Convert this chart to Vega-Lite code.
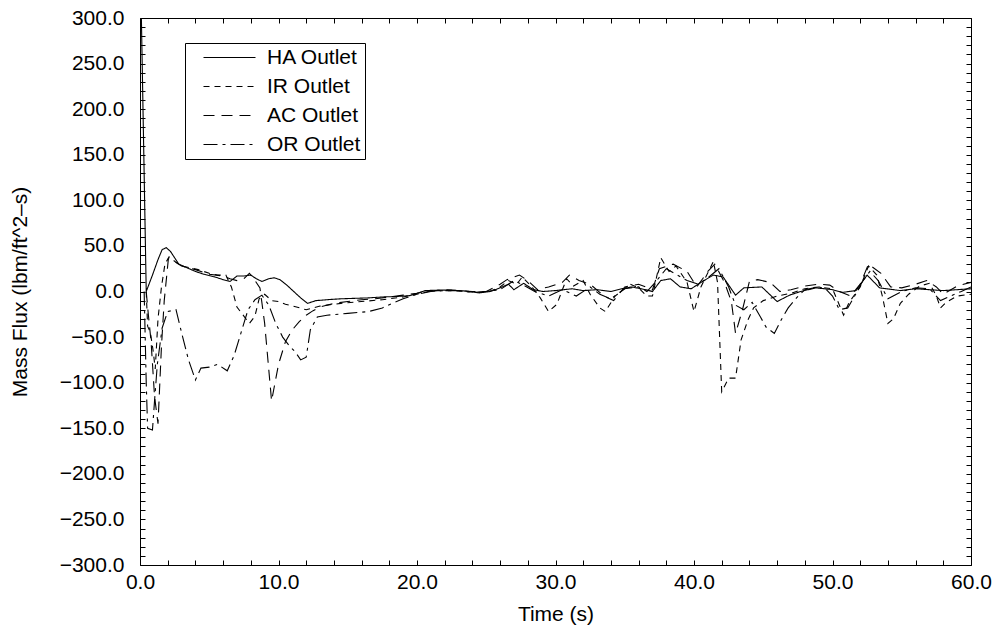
{
  "$schema": "https://vega.github.io/schema/vega-lite/v6.json",
  "width": 831,
  "height": 547,
  "autosize": {"type": "none"},
  "padding": {"left": 140, "top": 18, "right": 28, "bottom": 65},
  "background": "white",
  "config": {
    "view": {"stroke": "black", "strokeWidth": 1},
    "font": "Liberation Sans",
    "axis": {
      "domain": false,
      "tickColor": "black",
      "tickWidth": 1,
      "labelColor": "black",
      "titleColor": "black",
      "labelFont": "Liberation Sans",
      "titleFont": "Liberation Sans",
      "labelFontSize": 21,
      "titleFontSize": 21,
      "titleFontWeight": "normal",
      "grid": false,
      "labelFlush": false,
      "labelOverlap": false
    },
    "legend": {
      "labelFont": "Liberation Sans",
      "labelFontSize": 21,
      "labelColor": "black"
    }
  },
  "data": {
    "values": [
      {"s":"HA Outlet","t":0.1,"v":300},{"s":"HA Outlet","t":0.45,"v":0},{"s":"HA Outlet","t":0.9,"v":18},{"s":"HA Outlet","t":1.3,"v":35},{"s":"HA Outlet","t":1.6,"v":46},{"s":"HA Outlet","t":1.9,"v":48},{"s":"HA Outlet","t":2.2,"v":44},{"s":"HA Outlet","t":2.8,"v":30},{"s":"HA Outlet","t":3.4,"v":26},{"s":"HA Outlet","t":4.0,"v":22},{"s":"HA Outlet","t":4.6,"v":19},{"s":"HA Outlet","t":5.4,"v":16},{"s":"HA Outlet","t":6.0,"v":13},{"s":"HA Outlet","t":6.5,"v":11},{"s":"HA Outlet","t":7.0,"v":17},{"s":"HA Outlet","t":7.5,"v":17},{"s":"HA Outlet","t":8.0,"v":18},{"s":"HA Outlet","t":8.4,"v":14},{"s":"HA Outlet","t":8.8,"v":11},{"s":"HA Outlet","t":9.3,"v":14},{"s":"HA Outlet","t":9.7,"v":15},{"s":"HA Outlet","t":10.1,"v":13},{"s":"HA Outlet","t":10.6,"v":7},{"s":"HA Outlet","t":11.1,"v":0},{"s":"HA Outlet","t":11.6,"v":-7},{"s":"HA Outlet","t":12.1,"v":-13},{"s":"HA Outlet","t":12.7,"v":-10},{"s":"HA Outlet","t":13.5,"v":-9},{"s":"HA Outlet","t":14.5,"v":-8},{"s":"HA Outlet","t":15.5,"v":-7.5},{"s":"HA Outlet","t":16.5,"v":-7},{"s":"HA Outlet","t":17.5,"v":-6},{"s":"HA Outlet","t":18.5,"v":-5.5},{"s":"HA Outlet","t":19.5,"v":-4.5},{"s":"HA Outlet","t":20.0,"v":-2},{"s":"HA Outlet","t":20.6,"v":1},{"s":"HA Outlet","t":21.5,"v":1.5},{"s":"HA Outlet","t":22.5,"v":1.5},{"s":"HA Outlet","t":23.5,"v":0.5},{"s":"HA Outlet","t":24.5,"v":-1.5},{"s":"HA Outlet","t":25.3,"v":0},{"s":"HA Outlet","t":26.0,"v":4},{"s":"HA Outlet","t":26.6,"v":8},{"s":"HA Outlet","t":27.0,"v":2},{"s":"HA Outlet","t":27.7,"v":9},{"s":"HA Outlet","t":28.4,"v":2},{"s":"HA Outlet","t":29.1,"v":0},{"s":"HA Outlet","t":30.0,"v":1},{"s":"HA Outlet","t":30.6,"v":2},{"s":"HA Outlet","t":31.2,"v":3},{"s":"HA Outlet","t":32.0,"v":1},{"s":"HA Outlet","t":33.0,"v":2},{"s":"HA Outlet","t":34.0,"v":0},{"s":"HA Outlet","t":34.8,"v":3},{"s":"HA Outlet","t":35.5,"v":5},{"s":"HA Outlet","t":36.5,"v":2},{"s":"HA Outlet","t":37.0,"v":0},{"s":"HA Outlet","t":37.6,"v":12},{"s":"HA Outlet","t":38.3,"v":14},{"s":"HA Outlet","t":39.0,"v":5},{"s":"HA Outlet","t":39.8,"v":3},{"s":"HA Outlet","t":40.5,"v":10},{"s":"HA Outlet","t":41.4,"v":18},{"s":"HA Outlet","t":42.1,"v":16},{"s":"HA Outlet","t":43.0,"v":-4},{"s":"HA Outlet","t":43.6,"v":4},{"s":"HA Outlet","t":44.9,"v":5},{"s":"HA Outlet","t":46.0,"v":-11},{"s":"HA Outlet","t":46.9,"v":-4},{"s":"HA Outlet","t":47.7,"v":0},{"s":"HA Outlet","t":48.8,"v":4},{"s":"HA Outlet","t":50.0,"v":2},{"s":"HA Outlet","t":50.7,"v":-1},{"s":"HA Outlet","t":51.7,"v":1},{"s":"HA Outlet","t":52.5,"v":18},{"s":"HA Outlet","t":53.4,"v":4},{"s":"HA Outlet","t":54.9,"v":1},{"s":"HA Outlet","t":56.0,"v":3},{"s":"HA Outlet","t":57.0,"v":2},{"s":"HA Outlet","t":58.0,"v":1},{"s":"HA Outlet","t":59.0,"v":2},{"s":"HA Outlet","t":60.0,"v":3},

      {"s":"IR Outlet","t":0.45,"v":0},{"s":"IR Outlet","t":0.55,"v":-38},{"s":"IR Outlet","t":0.75,"v":-45},{"s":"IR Outlet","t":0.95,"v":-65},{"s":"IR Outlet","t":1.1,"v":-85},{"s":"IR Outlet","t":1.3,"v":-30},{"s":"IR Outlet","t":1.55,"v":5},{"s":"IR Outlet","t":1.8,"v":30},{"s":"IR Outlet","t":2.1,"v":38},{"s":"IR Outlet","t":2.6,"v":32},{"s":"IR Outlet","t":3.0,"v":28},{"s":"IR Outlet","t":3.6,"v":26},{"s":"IR Outlet","t":4.2,"v":24},{"s":"IR Outlet","t":5.0,"v":20},{"s":"IR Outlet","t":5.6,"v":18},{"s":"IR Outlet","t":6.2,"v":18},{"s":"IR Outlet","t":6.6,"v":5},{"s":"IR Outlet","t":7.0,"v":-17},{"s":"IR Outlet","t":7.5,"v":-27},{"s":"IR Outlet","t":7.9,"v":-35},{"s":"IR Outlet","t":8.3,"v":-27},{"s":"IR Outlet","t":8.6,"v":-8},{"s":"IR Outlet","t":9.0,"v":-3},{"s":"IR Outlet","t":9.5,"v":-10},{"s":"IR Outlet","t":10.0,"v":-11},{"s":"IR Outlet","t":10.5,"v":-14},{"s":"IR Outlet","t":11.3,"v":-17},{"s":"IR Outlet","t":12.0,"v":-20},{"s":"IR Outlet","t":13.0,"v":-16},{"s":"IR Outlet","t":14.5,"v":-13},{"s":"IR Outlet","t":16.0,"v":-11},{"s":"IR Outlet","t":17.5,"v":-9},{"s":"IR Outlet","t":19.0,"v":-6},{"s":"IR Outlet","t":20.0,"v":-3},{"s":"IR Outlet","t":20.8,"v":0},{"s":"IR Outlet","t":21.5,"v":1},{"s":"IR Outlet","t":22.5,"v":1},{"s":"IR Outlet","t":23.5,"v":0},{"s":"IR Outlet","t":24.5,"v":-1},{"s":"IR Outlet","t":25.4,"v":1},{"s":"IR Outlet","t":26.0,"v":5},{"s":"IR Outlet","t":26.6,"v":12},{"s":"IR Outlet","t":27.2,"v":8},{"s":"IR Outlet","t":27.6,"v":16},{"s":"IR Outlet","t":28.3,"v":5},{"s":"IR Outlet","t":28.9,"v":-7},{"s":"IR Outlet","t":29.5,"v":-22},{"s":"IR Outlet","t":30.1,"v":-14},{"s":"IR Outlet","t":30.8,"v":14},{"s":"IR Outlet","t":31.3,"v":6},{"s":"IR Outlet","t":32.0,"v":12},{"s":"IR Outlet","t":32.5,"v":-3},{"s":"IR Outlet","t":33.2,"v":-18},{"s":"IR Outlet","t":33.6,"v":-22},{"s":"IR Outlet","t":34.3,"v":-5},{"s":"IR Outlet","t":35.4,"v":8},{"s":"IR Outlet","t":36.0,"v":4},{"s":"IR Outlet","t":36.6,"v":-5},{"s":"IR Outlet","t":37.0,"v":-5},{"s":"IR Outlet","t":37.6,"v":37},{"s":"IR Outlet","t":38.2,"v":22},{"s":"IR Outlet","t":38.7,"v":28},{"s":"IR Outlet","t":39.5,"v":10},{"s":"IR Outlet","t":40.0,"v":-22},{"s":"IR Outlet","t":40.5,"v":5},{"s":"IR Outlet","t":41.4,"v":33},{"s":"IR Outlet","t":41.7,"v":10},{"s":"IR Outlet","t":42.0,"v":-110},{"s":"IR Outlet","t":42.5,"v":-95},{"s":"IR Outlet","t":43.0,"v":-95},{"s":"IR Outlet","t":43.4,"v":-53},{"s":"IR Outlet","t":43.9,"v":-31},{"s":"IR Outlet","t":44.3,"v":-18},{"s":"IR Outlet","t":45.0,"v":-10},{"s":"IR Outlet","t":46.0,"v":-5},{"s":"IR Outlet","t":47.0,"v":-2},{"s":"IR Outlet","t":48.0,"v":3},{"s":"IR Outlet","t":49.0,"v":5},{"s":"IR Outlet","t":50.0,"v":3},{"s":"IR Outlet","t":50.5,"v":-15},{"s":"IR Outlet","t":50.8,"v":-26},{"s":"IR Outlet","t":51.2,"v":-12},{"s":"IR Outlet","t":52.0,"v":5},{"s":"IR Outlet","t":52.6,"v":28},{"s":"IR Outlet","t":53.2,"v":18},{"s":"IR Outlet","t":53.6,"v":-5},{"s":"IR Outlet","t":54.0,"v":-35},{"s":"IR Outlet","t":54.4,"v":-30},{"s":"IR Outlet","t":54.9,"v":-13},{"s":"IR Outlet","t":55.5,"v":-3},{"s":"IR Outlet","t":56.3,"v":6},{"s":"IR Outlet","t":57.0,"v":9},{"s":"IR Outlet","t":57.5,"v":-5},{"s":"IR Outlet","t":57.8,"v":-18},{"s":"IR Outlet","t":58.2,"v":-12},{"s":"IR Outlet","t":59.0,"v":-5},{"s":"IR Outlet","t":60.0,"v":-3},

      {"s":"AC Outlet","t":0.45,"v":0},{"s":"AC Outlet","t":0.6,"v":-25},{"s":"AC Outlet","t":0.8,"v":-55},{"s":"AC Outlet","t":1.05,"v":-115},{"s":"AC Outlet","t":1.3,"v":-145},{"s":"AC Outlet","t":1.55,"v":-60},{"s":"AC Outlet","t":1.75,"v":-10},{"s":"AC Outlet","t":2.05,"v":36},{"s":"AC Outlet","t":2.5,"v":33},{"s":"AC Outlet","t":3.0,"v":28},{"s":"AC Outlet","t":4.0,"v":24},{"s":"AC Outlet","t":5.0,"v":19},{"s":"AC Outlet","t":6.0,"v":17},{"s":"AC Outlet","t":6.5,"v":14},{"s":"AC Outlet","t":7.0,"v":12},{"s":"AC Outlet","t":7.5,"v":14},{"s":"AC Outlet","t":7.9,"v":20},{"s":"AC Outlet","t":8.3,"v":12},{"s":"AC Outlet","t":8.66,"v":4},{"s":"AC Outlet","t":9.0,"v":-35},{"s":"AC Outlet","t":9.5,"v":-120},{"s":"AC Outlet","t":10.0,"v":-80},{"s":"AC Outlet","t":10.5,"v":-55},{"s":"AC Outlet","t":11.0,"v":-42},{"s":"AC Outlet","t":11.5,"v":-33},{"s":"AC Outlet","t":12.0,"v":-26},{"s":"AC Outlet","t":12.5,"v":-21},{"s":"AC Outlet","t":13.0,"v":-17},{"s":"AC Outlet","t":14.0,"v":-13},{"s":"AC Outlet","t":15.0,"v":-11},{"s":"AC Outlet","t":16.0,"v":-9},{"s":"AC Outlet","t":17.0,"v":-8},{"s":"AC Outlet","t":18.0,"v":-6},{"s":"AC Outlet","t":19.0,"v":-4},{"s":"AC Outlet","t":20.0,"v":-2},{"s":"AC Outlet","t":21.0,"v":0.5},{"s":"AC Outlet","t":22.0,"v":2},{"s":"AC Outlet","t":23.0,"v":1},{"s":"AC Outlet","t":24.0,"v":0},{"s":"AC Outlet","t":25.0,"v":0},{"s":"AC Outlet","t":26.0,"v":8},{"s":"AC Outlet","t":26.5,"v":13},{"s":"AC Outlet","t":27.4,"v":18},{"s":"AC Outlet","t":28.0,"v":12},{"s":"AC Outlet","t":28.7,"v":2},{"s":"AC Outlet","t":29.5,"v":5},{"s":"AC Outlet","t":30.5,"v":10},{"s":"AC Outlet","t":31.0,"v":18},{"s":"AC Outlet","t":31.7,"v":12},{"s":"AC Outlet","t":32.5,"v":8},{"s":"AC Outlet","t":33.5,"v":-5},{"s":"AC Outlet","t":34.2,"v":-10},{"s":"AC Outlet","t":35.0,"v":5},{"s":"AC Outlet","t":36.0,"v":8},{"s":"AC Outlet","t":37.0,"v":2},{"s":"AC Outlet","t":37.5,"v":25},{"s":"AC Outlet","t":38.5,"v":30},{"s":"AC Outlet","t":39.5,"v":22},{"s":"AC Outlet","t":40.2,"v":5},{"s":"AC Outlet","t":41.0,"v":22},{"s":"AC Outlet","t":41.5,"v":30},{"s":"AC Outlet","t":42.2,"v":10},{"s":"AC Outlet","t":42.7,"v":-11},{"s":"AC Outlet","t":43.0,"v":-46},{"s":"AC Outlet","t":43.5,"v":-20},{"s":"AC Outlet","t":44.0,"v":11},{"s":"AC Outlet","t":44.6,"v":13},{"s":"AC Outlet","t":45.5,"v":10},{"s":"AC Outlet","t":46.2,"v":0},{"s":"AC Outlet","t":47.0,"v":2},{"s":"AC Outlet","t":48.0,"v":6},{"s":"AC Outlet","t":49.0,"v":8},{"s":"AC Outlet","t":49.8,"v":7},{"s":"AC Outlet","t":50.5,"v":0},{"s":"AC Outlet","t":51.3,"v":-5},{"s":"AC Outlet","t":52.0,"v":8},{"s":"AC Outlet","t":52.6,"v":30},{"s":"AC Outlet","t":53.5,"v":20},{"s":"AC Outlet","t":54.2,"v":5},{"s":"AC Outlet","t":55.0,"v":4},{"s":"AC Outlet","t":56.0,"v":8},{"s":"AC Outlet","t":56.8,"v":12},{"s":"AC Outlet","t":57.5,"v":5},{"s":"AC Outlet","t":58.0,"v":-3},{"s":"AC Outlet","t":59.0,"v":6},{"s":"AC Outlet","t":60.0,"v":10},

      {"s":"OR Outlet","t":0.3,"v":0},{"s":"OR Outlet","t":0.45,"v":-100},{"s":"OR Outlet","t":0.55,"v":-150},{"s":"OR Outlet","t":0.9,"v":-152},{"s":"OR Outlet","t":1.05,"v":-120},{"s":"OR Outlet","t":1.25,"v":-80},{"s":"OR Outlet","t":1.6,"v":-40},{"s":"OR Outlet","t":2.0,"v":-22},{"s":"OR Outlet","t":2.6,"v":-20},{"s":"OR Outlet","t":3.0,"v":-45},{"s":"OR Outlet","t":3.5,"v":-75},{"s":"OR Outlet","t":4.0,"v":-97},{"s":"OR Outlet","t":4.4,"v":-84},{"s":"OR Outlet","t":5.0,"v":-83},{"s":"OR Outlet","t":5.6,"v":-80},{"s":"OR Outlet","t":6.3,"v":-87},{"s":"OR Outlet","t":6.8,"v":-70},{"s":"OR Outlet","t":7.4,"v":-40},{"s":"OR Outlet","t":7.8,"v":-20},{"s":"OR Outlet","t":8.3,"v":-9},{"s":"OR Outlet","t":8.8,"v":-4},{"s":"OR Outlet","t":9.3,"v":-15},{"s":"OR Outlet","t":9.8,"v":-35},{"s":"OR Outlet","t":10.3,"v":-50},{"s":"OR Outlet","t":10.8,"v":-60},{"s":"OR Outlet","t":11.2,"v":-66},{"s":"OR Outlet","t":11.6,"v":-75},{"s":"OR Outlet","t":12.0,"v":-72},{"s":"OR Outlet","t":12.3,"v":-42},{"s":"OR Outlet","t":12.8,"v":-28},{"s":"OR Outlet","t":13.5,"v":-26},{"s":"OR Outlet","t":15.0,"v":-24},{"s":"OR Outlet","t":16.5,"v":-22},{"s":"OR Outlet","t":17.5,"v":-18},{"s":"OR Outlet","t":18.2,"v":-13},{"s":"OR Outlet","t":19.0,"v":-8},{"s":"OR Outlet","t":20.0,"v":-3},{"s":"OR Outlet","t":21.0,"v":0},{"s":"OR Outlet","t":22.0,"v":1},{"s":"OR Outlet","t":23.0,"v":1},{"s":"OR Outlet","t":24.0,"v":-1},{"s":"OR Outlet","t":25.0,"v":0},{"s":"OR Outlet","t":26.0,"v":2},{"s":"OR Outlet","t":27.0,"v":12},{"s":"OR Outlet","t":27.8,"v":6},{"s":"OR Outlet","t":28.5,"v":0},{"s":"OR Outlet","t":29.5,"v":-5},{"s":"OR Outlet","t":30.5,"v":2},{"s":"OR Outlet","t":31.5,"v":-5},{"s":"OR Outlet","t":32.5,"v":5},{"s":"OR Outlet","t":33.2,"v":-3},{"s":"OR Outlet","t":34.0,"v":-8},{"s":"OR Outlet","t":35.0,"v":3},{"s":"OR Outlet","t":36.0,"v":5},{"s":"OR Outlet","t":36.6,"v":0},{"s":"OR Outlet","t":37.2,"v":10},{"s":"OR Outlet","t":38.0,"v":25},{"s":"OR Outlet","t":38.8,"v":18},{"s":"OR Outlet","t":39.5,"v":12},{"s":"OR Outlet","t":40.3,"v":8},{"s":"OR Outlet","t":41.0,"v":15},{"s":"OR Outlet","t":41.8,"v":25},{"s":"OR Outlet","t":42.5,"v":5},{"s":"OR Outlet","t":43.0,"v":-15},{"s":"OR Outlet","t":43.6,"v":-20},{"s":"OR Outlet","t":44.2,"v":-12},{"s":"OR Outlet","t":44.8,"v":-28},{"s":"OR Outlet","t":45.2,"v":-39},{"s":"OR Outlet","t":45.8,"v":-46},{"s":"OR Outlet","t":46.3,"v":-31},{"s":"OR Outlet","t":46.8,"v":-18},{"s":"OR Outlet","t":47.4,"v":-7},{"s":"OR Outlet","t":48.0,"v":2},{"s":"OR Outlet","t":49.0,"v":5},{"s":"OR Outlet","t":49.5,"v":3},{"s":"OR Outlet","t":50.0,"v":-5},{"s":"OR Outlet","t":50.5,"v":-20},{"s":"OR Outlet","t":51.1,"v":-18},{"s":"OR Outlet","t":51.6,"v":-5},{"s":"OR Outlet","t":52.2,"v":12},{"s":"OR Outlet","t":52.7,"v":22},{"s":"OR Outlet","t":53.3,"v":12},{"s":"OR Outlet","t":54.0,"v":-8},{"s":"OR Outlet","t":55.0,"v":0},{"s":"OR Outlet","t":56.0,"v":4},{"s":"OR Outlet","t":57.0,"v":3},{"s":"OR Outlet","t":57.8,"v":-10},{"s":"OR Outlet","t":58.5,"v":-5},{"s":"OR Outlet","t":59.3,"v":0},{"s":"OR Outlet","t":60.0,"v":5}
    ]
  },
  "layer": [
    {
      "mark": {"type": "line", "color": "black", "strokeWidth": 1.1, "clip": true},
      "encoding": {
        "x": {
          "field": "t", "type": "quantitative",
          "scale": {"domain": [0, 60], "nice": false, "zero": false},
          "axis": {
            "orient": "bottom",
            "values": [0,10,20,30,40,50,60],
            "format": ".1f",
            "ticks": false,
            "labelPadding": 6,
            "title": "Time (s)",
            "titlePadding": 11
          }
        },
        "y": {
          "field": "v", "type": "quantitative",
          "scale": {"domain": [-300, 300], "nice": false, "zero": false},
          "axis": {
            "orient": "left",
            "values": [-300,-250,-200,-150,-100,-50,0,50,100,150,200,250,300],
            "format": ".1f",
            "ticks": false,
            "labelPadding": 16,
            "title": "Mass Flux (lbm/ft^2–s)",
            "titlePadding": 29
          }
        },
        "strokeDash": {
          "field": "s", "type": "nominal",
          "scale": {
            "domain": ["HA Outlet", "IR Outlet", "AC Outlet", "OR Outlet"],
            "range": [[1, 0], [6, 5], [11, 7], [14, 5, 3, 5]]
          },
          "legend": {
            "title": null,
            "orient": "none",
            "legendX": 45,
            "legendY": 25,
            "padding": 4,
            "strokeColor": "black",
            "symbolType": "M-5.2,0H5.2",
            "symbolSize": 100,
            "symbolOffset": 30,
            "symbolStrokeColor": "black",
            "symbolStrokeWidth": 1.1,
            "labelOffset": 27,
            "rowPadding": 7
          }
        }
      }
    },
    {
      "mark": {"type": "point", "opacity": 0},
      "encoding": {
        "x": {
          "field": "t", "type": "quantitative",
          "axis": {
            "orient": "bottom",
            "values": [0,2,4,6,8,10,12,14,16,18,20,22,24,26,28,30,32,34,36,38,40,42,44,46,48,50,52,54,56,58,60],
            "labels": false,
            "tickSize": 5,
            "offset": -5,
            "title": null
          }
        },
        "y": {
          "field": "v", "type": "quantitative",
          "axis": {
            "orient": "left",
            "values": [-300,-290,-280,-270,-260,-250,-240,-230,-220,-210,-200,-190,-180,-170,-160,-150,-140,-130,-120,-110,-100,-90,-80,-70,-60,-50,-40,-30,-20,-10,0,10,20,30,40,50,60,70,80,90,100,110,120,130,140,150,160,170,180,190,200,210,220,230,240,250,260,270,280,290,300],
            "labels": false,
            "tickSize": 5,
            "offset": -5,
            "title": null
          }
        }
      }
    },
    {
      "mark": {"type": "point", "opacity": 0},
      "encoding": {
        "x": {
          "field": "t", "type": "quantitative",
          "axis": {
            "orient": "top",
            "values": [0,2,4,6,8,10,12,14,16,18,20,22,24,26,28,30,32,34,36,38,40,42,44,46,48,50,52,54,56,58,60],
            "labels": false,
            "tickSize": 5,
            "offset": -5,
            "title": null
          }
        },
        "y": {
          "field": "v", "type": "quantitative",
          "axis": {
            "orient": "right",
            "values": [-300,-290,-280,-270,-260,-250,-240,-230,-220,-210,-200,-190,-180,-170,-160,-150,-140,-130,-120,-110,-100,-90,-80,-70,-60,-50,-40,-30,-20,-10,0,10,20,30,40,50,60,70,80,90,100,110,120,130,140,150,160,170,180,190,200,210,220,230,240,250,260,270,280,290,300],
            "labels": false,
            "tickSize": 5,
            "offset": -5,
            "title": null
          }
        }
      }
    }
  ],
  "resolve": {"axis": {"x": "independent", "y": "independent"}}
}
